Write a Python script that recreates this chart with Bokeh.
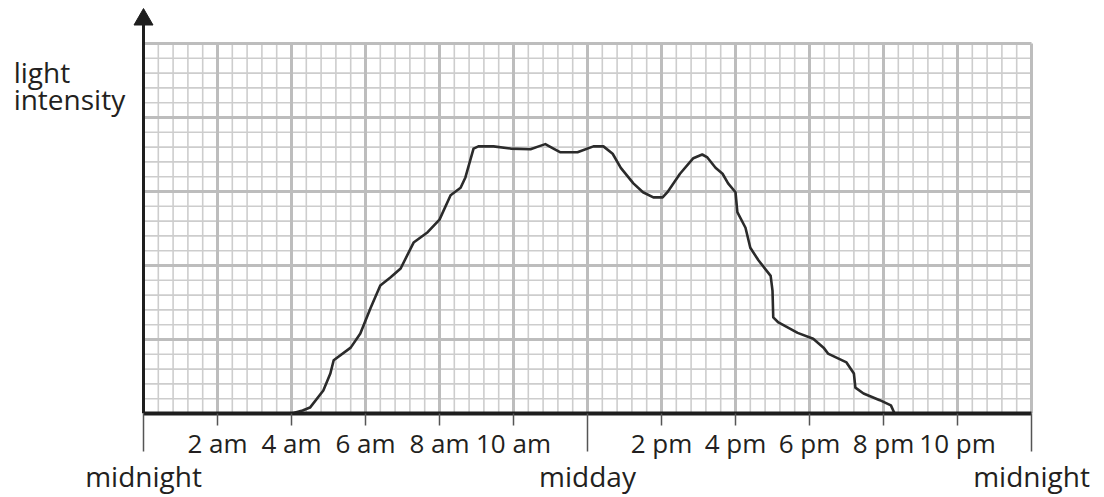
from bokeh.plotting import figure
from bokeh.models import FixedTicker, LinearAxis, Range1d
from bokeh.core.properties import value
from bokeh.embed import file_html
from bokeh.resources import INLINE

# ---- data ----
hours = [4.0, 4.3, 4.5, 4.86, 5.05, 5.14, 5.6, 5.86, 6.14, 6.4, 6.68, 6.95, 7.3, 7.68,
         8.0, 8.3, 8.57, 8.7, 8.92, 9.05, 9.46, 9.92, 10.46, 10.68, 10.86, 11.08, 11.27,
         11.73, 12.16, 12.43, 12.68, 12.9, 13.24, 13.5, 13.78, 14.03, 14.16, 14.5, 14.86,
         15.1, 15.24, 15.46, 15.65, 15.8, 16.0, 16.05, 16.27, 16.4, 16.62, 16.95, 17.0,
         17.02, 17.16, 17.68, 18.1, 18.38, 18.5, 19.0, 19.2, 19.24, 19.46, 19.9, 20.2, 20.3]
intensity = [0.0, 0.4, 0.8, 3.1, 5.4, 7.2, 8.9, 10.8, 14.3, 17.3, 18.4, 19.6, 23.1, 24.5,
             26.2, 29.5, 30.5, 31.9, 35.8, 36.1, 36.1, 35.8, 35.7, 36.1, 36.4, 35.8, 35.3,
             35.3, 36.1, 36.1, 35.1, 33.2, 31.1, 29.9, 29.2, 29.2, 29.9, 32.4, 34.5,
             35.0, 34.6, 33.2, 32.4, 31.1, 29.9, 27.2, 25.1, 22.4, 20.7, 18.6, 16.6,
             13.0, 12.3, 10.9, 10.1, 8.9, 8.1, 6.9, 5.4, 3.5, 2.7, 1.8, 1.1, 0.0]

hour_ticks = [2, 4, 6, 8, 10, 14, 16, 18, 20, 22]
hour_labels = ["2 am", "4 am", "6 am", "8 am", "10 am", "2 pm", "4 pm", "6 pm", "8 pm", "10 pm"]
long_ticks = [0, 12, 24]
long_labels = ["midnight", "midday", "midnight"]
y_label_lines = ["light", "intensity"]

X_MAX, Y_MAX = 24, 50

FONT = "Open Sans"
FS_TICK = "26px"
FS_BIG = "28px"
TXT = "#231f20"
AXC = "#1e1e1e"

# frame spans the canvas on the left and top (room for the y label and arrow)
p = figure(width=1104, height=497, output_backend="svg", toolbar_location=None,
           x_range=Range1d(-143 / 37, 892 / 37), y_range=Range1d(0, 413 / 7.4),
           min_border_left=0, min_border_right=69, min_border_top=0, min_border_bottom=84)
p.outline_line_color = None
p.background_fill_color = "white"
p.border_fill_color = "white"
p.grid.visible = False
p.yaxis.visible = False

# grid (graph paper)
x_major = list(range(0, X_MAX + 1, 2))
x_minor = [round(i * 0.4, 2) for i in range(61) if i % 5]
y_major = list(range(0, Y_MAX + 1, 10))
y_minor = [i * 2 for i in range(26) if i % 5]
p.segment(x0=x_minor, y0=[0] * len(x_minor), x1=x_minor, y1=[Y_MAX] * len(x_minor),
          line_color="#cdcdcd", line_width=1.6)
p.segment(x0=[0] * len(y_minor), y0=y_minor, x1=[X_MAX] * len(y_minor), y1=y_minor,
          line_color="#cdcdcd", line_width=1.6)
p.segment(x0=x_major, y0=[0] * len(x_major), x1=x_major, y1=[Y_MAX] * len(x_major),
          line_color="#bdbdbd", line_width=3)
p.segment(x0=[0] * len(y_major), y0=y_major, x1=[X_MAX] * len(y_major), y1=y_major,
          line_color="#bdbdbd", line_width=3)

# curve
p.line(hours, intensity, line_color="#2b2b2b", line_width=2.6, line_join="round")

# y axis with arrow head
p.segment(x0=[0], y0=[0], x1=[0], y1=[52.7], line_color=AXC, line_width=3)
p.scatter(x=[0], y=[53.24], marker="triangle", size=19, fill_color=AXC, line_color=AXC)

# y label
p.text(x=[-3.51, -3.51], y=[46.2, 42.56], text=y_label_lines, text_align="left",
       text_baseline="alphabetic", text_font=value(FONT), text_font_size=FS_BIG, text_color=TXT)

# x axis 1: hour ticks and labels + long midnight/midday ticks
ax = p.xaxis[0]
ax.bounds = (0, X_MAX)
ax.ticker = FixedTicker(ticks=hour_ticks, minor_ticks=long_ticks)
ax.major_label_overrides = {t: l for t, l in zip(hour_ticks, hour_labels)}
ax.major_tick_in = 0
ax.major_tick_out = 12
ax.minor_tick_in = 0
ax.minor_tick_out = 38
ax.major_tick_line_color = "#555555"
ax.major_tick_line_width = 1.5
ax.minor_tick_line_color = "#555555"
ax.minor_tick_line_width = 1.5
ax.axis_line_color = AXC
ax.axis_line_width = 4
ax.major_label_text_font = FONT
ax.major_label_text_font_size = FS_TICK
ax.major_label_text_color = TXT
ax.major_label_standoff = -27

# x axis 2: midnight / midday labels
ax2 = LinearAxis(ticker=FixedTicker(ticks=long_ticks),
                 major_label_overrides={t: l for t, l in zip(long_ticks, long_labels)},
                 axis_line_color=None, major_tick_line_color=None, minor_tick_line_color=None,
                 major_tick_in=0, major_tick_out=0, minor_tick_in=0, minor_tick_out=0,
                 major_label_text_font=FONT, major_label_text_font_size=FS_BIG,
                 major_label_text_color=TXT, major_label_standoff=-7)
p.add_layout(ax2, "below")

open("out.html", "w").write(file_html(p, INLINE))
